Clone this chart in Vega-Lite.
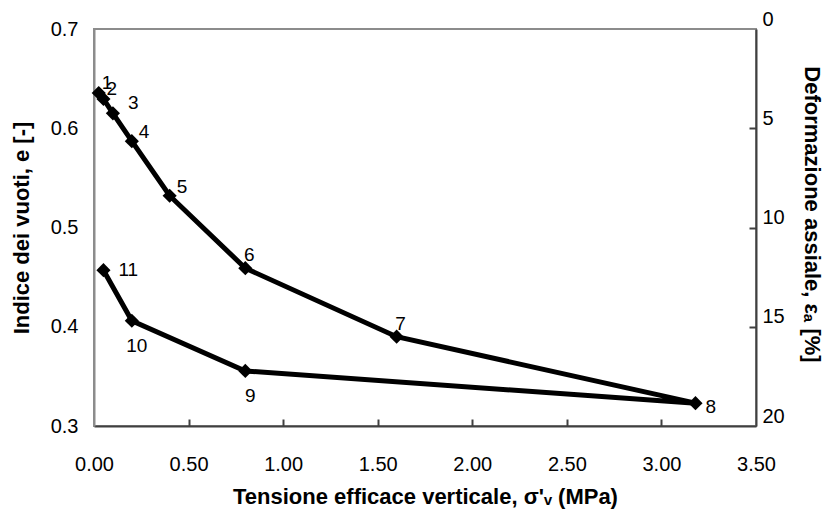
{
  "$schema": "https://vega.github.io/schema/vega-lite/v6.json",
  "width": 662,
  "height": 397,
  "autosize": {"type": "none"},
  "padding": {"left": 94, "top": 29, "right": 76, "bottom": 85},
  "background": "white",
  "config": {
    "font": "Liberation Sans",
    "view": {"stroke": "#8c8c8c", "strokeWidth": 2},
    "axis": {
      "grid": false,
      "zindex": 1,
      "labelFont": "Liberation Sans",
      "labelFontSize": 20,
      "labelColor": "#000000",
      "labelFlush": false,
      "labelOverlap": false,
      "titleFont": "Liberation Sans",
      "titleFontSize": 22,
      "titleFontWeight": "bold",
      "titleColor": "#000000"
    }
  },
  "datasets": {
    "pts": [
      {"n": 1, "s": 0.025, "e": 0.6355},
      {"n": 2, "s": 0.05, "e": 0.6295},
      {"n": 3, "s": 0.1, "e": 0.615},
      {"n": 4, "s": 0.2, "e": 0.587},
      {"n": 5, "s": 0.4, "e": 0.532},
      {"n": 6, "s": 0.8, "e": 0.459},
      {"n": 7, "s": 1.6, "e": 0.39},
      {"n": 8, "s": 3.18, "e": 0.323},
      {"n": 9, "s": 0.8, "e": 0.3555},
      {"n": 10, "s": 0.2, "e": 0.406},
      {"n": 11, "s": 0.05, "e": 0.457}
    ],
    "frame": [{"s": 0, "eps": 0}, {"s": 3.5, "eps": 20}]
  },
  "layer": [
    {
      "data": {"name": "pts"},
      "encoding": {
        "x": {
          "field": "s", "type": "quantitative",
          "scale": {"domain": [0, 3.5], "nice": false, "zero": false},
          "axis": {
            "title": "Tensione efficace verticale, σ'ᵥ (MPa)",
            "values": [0, 0.5, 1, 1.5, 2, 2.5, 3, 3.5],
            "format": ".2f",
            "ticks": false,
            "domainColor": "#404040", "domainWidth": 2,
            "labelPadding": 28, "titlePadding": 12
          }
        },
        "y": {
          "field": "e", "type": "quantitative",
          "scale": {"domain": [0.3, 0.7], "nice": false, "zero": false},
          "axis": {
            "orient": "left",
            "title": "Indice dei vuoti, e [-]",
            "values": [0.3, 0.4, 0.5, 0.6, 0.7],
            "format": ".1f",
            "ticks": false,
            "domainColor": "#8c8c8c", "domainWidth": 2,
            "labelPadding": 16, "titlePadding": 17
          }
        }
      },
      "layer": [
        {"mark": {"type": "line", "color": "#000000", "strokeWidth": 5}, "encoding": {"order": {"field": "n", "type": "quantitative"}}},
        {"mark": {"type": "point", "shape": "diamond", "filled": true, "color": "#000000", "opacity": 1, "size": 200}},
        {"transform": [{"filter": {"field": "n", "oneOf": [1, 2]}}], "mark": {"type": "text", "align": "left", "baseline": "middle", "dx": 3, "dy": -10, "fontSize": 19, "color": "#000000"}, "encoding": {"text": {"field": "n", "type": "quantitative"}}},
        {"transform": [{"filter": {"field": "n", "oneOf": [3]}}], "mark": {"type": "text", "align": "left", "baseline": "middle", "dx": 15, "dy": -10, "fontSize": 19, "color": "#000000"}, "encoding": {"text": {"field": "n", "type": "quantitative"}}},
        {"transform": [{"filter": {"field": "n", "oneOf": [4, 5]}}], "mark": {"type": "text", "align": "left", "baseline": "middle", "dx": 7, "dy": -9, "fontSize": 19, "color": "#000000"}, "encoding": {"text": {"field": "n", "type": "quantitative"}}},
        {"transform": [{"filter": {"field": "n", "oneOf": [6, 7]}}], "mark": {"type": "text", "align": "center", "baseline": "middle", "dx": 4, "dy": -13, "fontSize": 19, "color": "#000000"}, "encoding": {"text": {"field": "n", "type": "quantitative"}}},
        {"transform": [{"filter": {"field": "n", "oneOf": [8]}}], "mark": {"type": "text", "align": "left", "baseline": "middle", "dx": 10, "dy": 4, "fontSize": 19, "color": "#000000"}, "encoding": {"text": {"field": "n", "type": "quantitative"}}},
        {"transform": [{"filter": {"field": "n", "oneOf": [11]}}], "mark": {"type": "text", "align": "left", "baseline": "middle", "dx": 15, "dy": 0, "fontSize": 19, "color": "#000000"}, "encoding": {"text": {"field": "n", "type": "quantitative"}}},
        {"transform": [{"filter": {"field": "n", "oneOf": [9, 10]}}], "mark": {"type": "text", "align": "center", "baseline": "middle", "dx": 5, "dy": 25, "fontSize": 19, "color": "#000000"}, "encoding": {"text": {"field": "n", "type": "quantitative"}}}
      ]
    },
    {
      "data": {"name": "frame"},
      "mark": {"type": "point", "opacity": 0},
      "encoding": {
        "y": {
          "field": "eps", "type": "quantitative",
          "scale": {"domain": [0, 20], "reverse": true, "nice": false, "zero": false},
          "axis": {
            "orient": "right",
            "title": "Deformazione assiale, εₐ [%]",
            "values": [0, 5, 10, 15, 20],
            "ticks": false,
            "domainColor": "#404040", "domainWidth": 2,
            "labelPadding": 6, "labelOffset": -10,
            "titlePadding": 15, "titleY": 185
          }
        }
      }
    },
    {
      "data": {"name": "frame"},
      "mark": {"type": "point", "opacity": 0},
      "encoding": {
        "x": {
          "field": "s", "type": "quantitative",
          "scale": {"domain": [0, 3.5], "nice": false, "zero": false},
          "axis": {
            "orient": "bottom", "offset": -7,
            "values": [0.5, 1, 1.5, 2, 2.5, 3],
            "labels": false, "domain": false, "title": null,
            "tickSize": 7, "tickWidth": 2, "tickColor": "#404040"
          }
        },
        "y": {
          "field": "eps", "type": "quantitative",
          "scale": {"domain": [0, 20], "reverse": true, "nice": false, "zero": false},
          "axis": {
            "orient": "right", "offset": -7,
            "values": [5, 10, 15],
            "labels": false, "domain": false, "title": null,
            "tickSize": 7, "tickWidth": 2, "tickColor": "#404040"
          }
        }
      }
    }
  ],
  "resolve": {"scale": {"x": "independent", "y": "independent"}}
}
